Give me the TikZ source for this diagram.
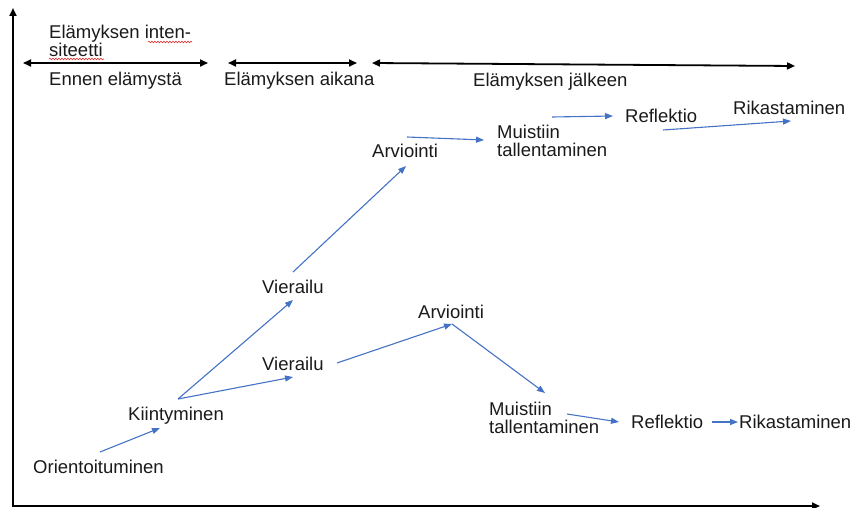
\documentclass[tikz,border=0pt]{standalone}
\usepackage{fontspec}
\setmainfont{Liberation Sans}
\usetikzlibrary{arrows.meta,decorations.pathmorphing}
\definecolor{flowblue}{HTML}{4472C4}
\definecolor{spellred}{HTML}{E03030}
\definecolor{inkgray}{HTML}{1A1A1A}
\begin{document}
\begin{tikzpicture}[x=1pt,y=-1pt,
  lbl/.style={inner sep=0pt, text=inkgray, font=\fontsize{18.5}{18}\selectfont, anchor=base west},
  lbltwo/.style={inner sep=0pt, text=inkgray, font=\fontsize{18.5}{18}\selectfont, align=left, anchor=north west},
  axis/.style={line width=2pt, line join=miter,
    {Triangle[length=8pt,width=7pt]}-{Triangle[length=8pt,width=7pt]}},
  span/.style={line width=1.8pt,
    {Triangle[length=8pt,width=7pt]}-{Triangle[length=8pt,width=7pt]}},
  flow/.style={flowblue, line width=1.1pt, -{Triangle[length=8pt,width=6pt]}},
  spell/.style={spellred, line width=0.6pt, decorate,
    decoration={snake, amplitude=0.8pt, segment length=3pt}}]

\useasboundingbox (0,0) rectangle (852,508);

% axes
\coordinate (ytop) at (13,8);
\coordinate (origin) at (13,506);
\coordinate (xend) at (820,506);
\draw[axis] (ytop) -- (origin) -- (xend);

% phase spans
\coordinate (s1a) at (23,63);  \coordinate (s1b) at (208,63);
\coordinate (s2a) at (228,63); \coordinate (s2b) at (357,63);
\coordinate (s3a) at (372,63); \coordinate (s3b) at (795,66);
\draw[span] (s1a) -- (s1b);
\draw[span] (s2a) -- (s2b);
\draw[span] (s3a) -- (s3b);

% header texts
\node[lbltwo] (intens) at (49,25) {Elämyksen inten-\\siteetti};
\node[lbl] (before) at (49,86) {Ennen elämystä};
\node[lbl] (during) at (224,86) {Elämyksen aikana};
\node[lbl] (after)  at (473,87) {Elämyksen jälkeen};

% spell-check underlines
\coordinate (u1a) at (148,42); \coordinate (u1b) at (192,42);
\coordinate (u2a) at (49,59);  \coordinate (u2b) at (104,59);
\draw[spell] (u1a) -- (u1b);
\draw[spell] (u2a) -- (u2b);

% stages
\node[lbl] (ori) at (33,473) {Orientoituminen};
\node[lbl] (kii) at (128,420) {Kiintyminen};
\node[lbl] (vu)  at (262,293) {Vierailu};
\node[lbl] (vl)  at (262,370) {Vierailu};
\node[lbl] (au)  at (372,158) {Arviointi};
\node[lbl] (al)  at (418,318) {Arviointi};
\node[lbltwo] (mu) at (497,125) {Muistiin\\tallentaminen};
\node[lbltwo] (ml) at (489,402) {Muistiin\\tallentaminen};
\node[lbl] (ru)  at (625,123) {Reflektio};
\node[lbl] (rl)  at (631,428) {Reflektio};
\node[lbl] (ku)  at (733,115) {Rikastaminen};
\node[lbl] (kl)  at (739,428) {Rikastaminen};

% connectors
\draw[flow] ([shift={(67,-21)}]ori.base west) -- ([shift={(32,8)}]kii.base west);
\draw[flow] ([shift={(50,-21)}]kii.base west) -- ([shift={(31,7)}]vu.base west);
\draw[flow] ([shift={(50,-21)}]kii.base west) -- ([shift={(31,7)}]vl.base west);
\draw[flow] ([shift={(31,-21)}]vu.base west) -- ([shift={(34,8)}]au.base west);
\draw[flow] ([shift={(75,-7)}]vl.base west) -- ([shift={(34,6)}]al.base west);
\draw[flow] ([shift={(34,6)}]al.base west) -- ([shift={(56,-9)}]ml.north west);
\draw[flow] ([shift={(78,12)}]ml.north west) -- ([shift={(-12,-6)}]rl.base west);
\draw[flow] ([shift={(81,-6)}]rl.base west) -- ([shift={(-1,-6)}]kl.base west);
\draw[flow] ([shift={(35,-21)}]au.base west) -- ([shift={(-13,15)}]mu.north west);
\draw[flow] ([shift={(55,-8)}]mu.north west) -- ([shift={(-12,-7)}]ru.base west);
\draw[flow] ([shift={(38,7)}]ru.base west) -- ([shift={(58,6)}]ku.base west);
\end{tikzpicture}
\end{document}
